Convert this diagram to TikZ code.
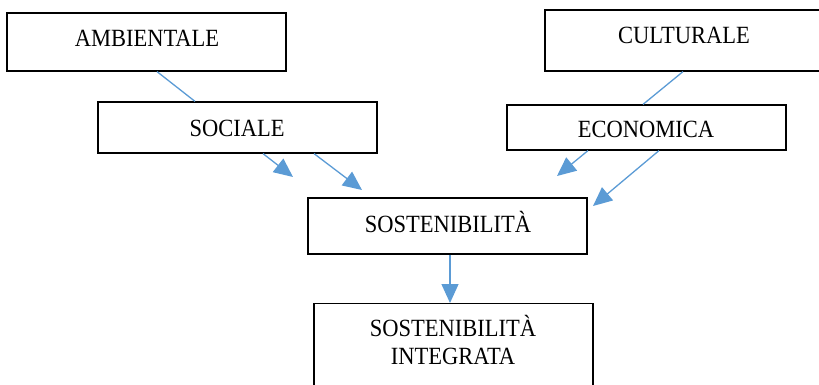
\documentclass[tikz,border=0pt]{standalone}
\usepackage{fontspec}
\setmainfont{Liberation Serif}
\usetikzlibrary{arrows.meta}
\definecolor{conn}{HTML}{5B9BD5}
\tikzset{
  box/.style={draw=black, line width=1.2pt, rectangle, inner sep=0pt, minimum width=279pt},
  txt/.style={font=\fontsize{22.5}{28}\selectfont, inner sep=0pt, anchor=base, yscale=1.1, transform shape},
  link/.style={draw=conn, line width=1.3pt},
  arr/.style={link, -{Triangle[length=19pt,width=17pt]}}
}
\begin{document}
\begin{tikzpicture}[x=1pt,y=-1pt]
\clip (0,0) rectangle (819,385);
% boxes
\node[box, minimum height=58pt] (amb) at (146.5,42) {};
\node[txt] (ambt) at (147,47) {AMBIENTALE};
\node[box, minimum height=61pt] (cul) at (684.5,40.5) {};
\node[txt] (cult) at (684,44) {CULTURALE};
\node[box, minimum height=51pt] (soc) at (237.5,127.5) {};
\node[txt] (soct) at (237,136) {SOCIALE};
\node[box, minimum height=45pt] (eco) at (646.5,127.5) {};
\node[txt] (ecot) at (646,138) {ECONOMICA};
\node[box, minimum height=56pt] (sos) at (447.5,226) {};
\node[txt] (sost) at (448,232) {SOSTENIBILITÀ};
\node[box, minimum height=110pt, anchor=north] (int) at (453.5,303) {};
\node[txt] (intt1) at (453,336) {SOSTENIBILITÀ};
\node[txt] (intt2) at (453,364) {INTEGRATA};
% free arrow ends
\coordinate (a1) at (293,177);
\coordinate (a2) at (362,190);
\coordinate (a3) at (557,176);
\coordinate (a4) at (593,206);
% connectors
\draw[link] (amb.south -| 157,0) -- (soc.north -| 195,0);
\draw[link] (cul.south -| 683,0) -- (eco.north -| 643,0);
\draw[arr] (soc.south -| 263,0) -- (a1);
\draw[arr] (soc.south -| 314,0) -- (a2);
\draw[arr] (eco.south -| 588,0) -- (a3);
\draw[arr] (eco.south -| 659,0) -- (a4);
\draw[arr] (sos.south -| 450,0) -- (int.north -| 450,0);
\end{tikzpicture}
\end{document}
